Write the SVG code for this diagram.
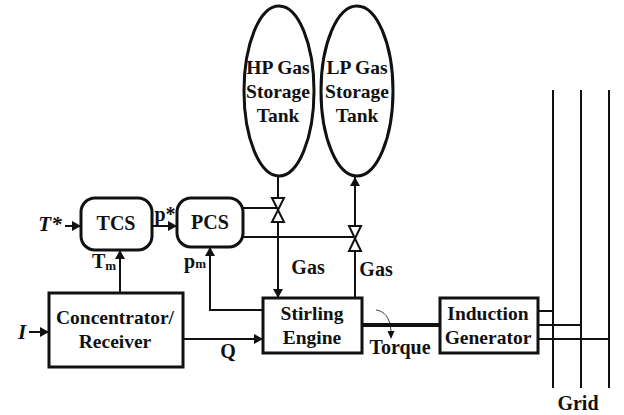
<svg xmlns="http://www.w3.org/2000/svg" width="624" height="415" viewBox="0 0 624 415">
<style>
text{font-family:"Liberation Serif","Times New Roman",serif;font-weight:bold;font-size:20px;fill:#111;text-anchor:middle}
.n{font-size:19.5px}
.b{fill:#fff;stroke:#111;stroke-width:3}
.c{fill:none;stroke:#111;stroke-width:2}
.v{fill:#fff;stroke:#111;stroke-width:2}
.h{fill:#111;stroke:none}
</style>
<defs><marker id="a" markerUnits="userSpaceOnUse" markerWidth="9" markerHeight="10" refX="9" refY="5" orient="auto"><path d="M0 0L9 5L0 10Z" fill="#111"/></marker></defs>
<rect width="624" height="415" fill="#fff"/>
<g id="connectors">
<path class="c" d="M65 226H81" marker-end="url(#a)"/>
<path class="c" d="M152 226H177" marker-end="url(#a)"/>
<path class="c" d="M29 332H49" marker-end="url(#a)"/>
<path class="c" d="M120 293V250" marker-end="url(#a)"/>
<path class="c" d="M263 310H210V247" marker-end="url(#a)"/>
<path class="c" d="M183 339H263" marker-end="url(#a)"/>
<path class="c" d="M278 176V298" marker-end="url(#a)"/>
<path class="c" d="M355 298V177" marker-end="url(#a)"/>
<path class="c" d="M243 208H278"/>
<path class="c" d="M243 237H355"/>
<path class="c" style="stroke-width:4" d="M362 325H440"/>
<path fill="none" stroke="#111" stroke-width="0.8" d="M376 310C384 311 390 317 391 331"/>
<path class="h" d="M387.500 331L391 339L394.500 331Z"/>
<path class="c" d="M553 90V388M581 90V388M609 90V388"/>
<path class="c" d="M538 311H553M538 325H581M538 339H609"/>
<path class="v" d="M272 198H284L272 222H284Z"/>
<path class="v" d="M349 226H361L349 251H361Z"/>
</g>
<g id="hp-tank"><ellipse class="b" cx="279" cy="91" rx="35" ry="85"/><text class="n" x="278" y="74">HP Gas</text><text class="n" x="278" y="98">Storage</text><text class="n" x="278" y="122">Tank</text></g>
<g id="lp-tank"><ellipse class="b" cx="357" cy="91" rx="36" ry="85"/><text class="n" x="357" y="74">LP Gas</text><text class="n" x="357" y="98">Storage</text><text class="n" x="357" y="122">Tank</text></g>
<g id="tcs"><rect class="b" x="81" y="198" width="71" height="52" rx="14"/><text x="116" y="230">TCS</text></g>
<g id="pcs"><rect class="b" x="177" y="198" width="66" height="49" rx="14"/><text x="210" y="229">PCS</text></g>
<g id="concentrator"><rect class="b" x="49" y="293" width="134" height="74"/><text class="n" x="115" y="324">Concentrator/</text><text class="n" x="115" y="348">Receiver</text></g>
<g id="stirling"><rect class="b" x="263" y="298" width="99" height="55"/><text class="n" x="312" y="320">Stirling</text><text class="n" x="312" y="344">Engine</text></g>
<g id="induction"><rect class="b" x="440" y="298" width="98" height="55"/><text class="n" x="488" y="320">Induction</text><text class="n" x="488" y="344">Generator</text></g>
<g id="labels">
<text x="50" y="231" style="font-style:italic;font-size:21px">T*</text>
<text x="22" y="339" style="font-style:italic;font-size:21px">I</text>
<text x="165" y="221">p*</text>
<text x="104" y="268">T<tspan font-size="13" dy="2">m</tspan></text>
<text x="195" y="268">p<tspan font-size="13">m</tspan></text>
<text x="228" y="358">Q</text>
<text x="308" y="274">Gas</text>
<text x="376" y="276">Gas</text>
<text x="400" y="354">Torque</text>
<text x="578" y="410">Grid</text>
</g>
</svg>
